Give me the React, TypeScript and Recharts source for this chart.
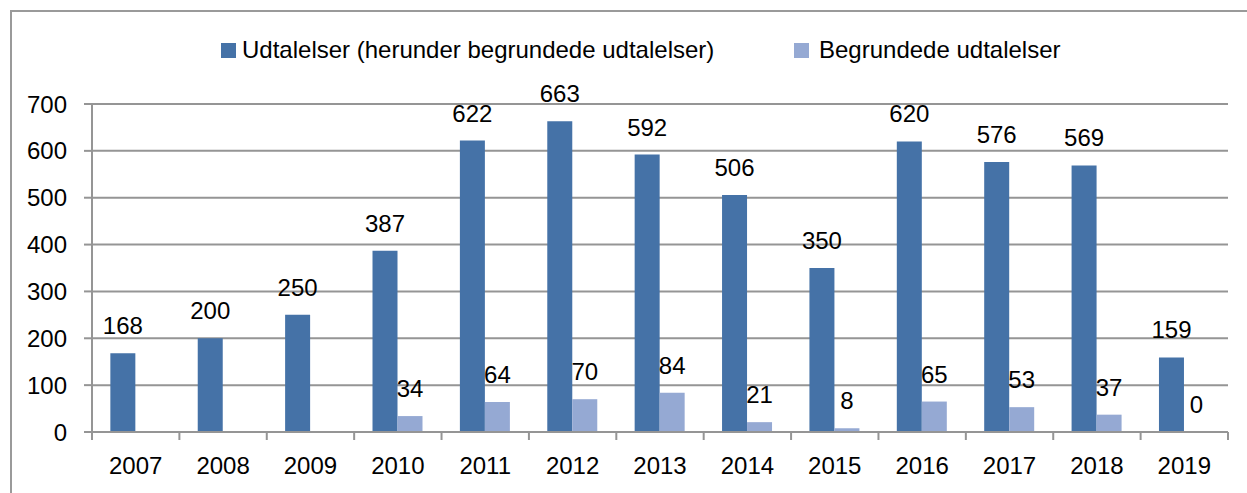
import { BarChart, Bar, XAxis, YAxis, CartesianGrid, LabelList } from 'recharts'

const years = ['2007', '2008', '2009', '2010', '2011', '2012', '2013', '2014', '2015', '2016', '2017', '2018', '2019']
const udtalelser = [168, 200, 250, 387, 622, 663, 592, 506, 350, 620, 576, 569, 159]
const begrundede = [null, null, null, 34, 64, 70, 84, 21, 8, 65, 53, 37, 0]
const yTicks = [0, 100, 200, 300, 400, 500, 600, 700]
const seriesNames = ['Udtalelser (herunder begrundede udtalelser)', 'Begrundede udtalelser']

const data = years.map((year, i) => ({
  year,
  udtalelser: udtalelser[i],
  begrundede: begrundede[i],
}))

const DARK = '#4572a7'
const LIGHT = '#95a9d3'
const GRID = '#959595'
const FONT = "'Liberation Sans', Arial, sans-serif"
const LABEL_GAP = 25

const fmt = (v: any) => (v === null || v === undefined ? '' : String(v))
// keep zero values as a (practically invisible) rect so their label is still drawn
const zeroSize = (v: any) => (v === 0 ? 0.01 : 0)

// category label plus the tick marks between categories (Excel style)
function YearTick(props: any) {
  const { x, y, payload, index, visibleTicksCount } = props
  const half = payload.offset ?? 0
  const axisY = y - LABEL_GAP
  const last = index === visibleTicksCount - 1
  return (
    <g>
      <line x1={x - half} x2={x - half} y1={axisY} y2={axisY + 8} stroke={GRID} strokeWidth={2} />
      {last && <line x1={x + half} x2={x + half} y1={axisY} y2={axisY + 8} stroke={GRID} strokeWidth={2} />}
      <text x={x} y={y} dy="0.71em" textAnchor="middle" fill="#000" fontSize={24} fontFamily={FONT}>
        {payload.value}
      </text>
    </g>
  )
}

export default function App() {
  return (
    <div
      style={{
        position: 'absolute',
        left: 0,
        top: 0,
        width: 1247,
        height: 493,
        overflow: 'hidden',
        background: '#fff',
        fontFamily: FONT,
      }}
    >
      <div
        style={{
          position: 'absolute',
          left: 10,
          top: 10,
          width: 1400,
          height: 700,
          borderTop: '2px solid #9a9a9a',
          borderLeft: '2px solid #9a9a9a',
        }}
      />
      <div style={{ position: 'absolute', top: 36, left: 221, display: 'flex', alignItems: 'center', fontSize: 24, color: '#000' }}>
        <span style={{ width: 15, height: 15, background: DARK, display: 'inline-block', marginRight: 6 }} />
        <span>{seriesNames[0]}</span>
      </div>
      <div style={{ position: 'absolute', top: 36, left: 794, display: 'flex', alignItems: 'center', fontSize: 24, color: '#000' }}>
        <span style={{ width: 15, height: 15, background: LIGHT, display: 'inline-block', marginRight: 10 }} />
        <span>{seriesNames[1]}</span>
      </div>
      <div style={{ position: 'absolute', left: 0, top: 0 }}>
        <BarChart
          width={1247}
          height={493}
          data={data}
          margin={{ top: 104, right: 19, bottom: 11, left: 0 }}
          barCategoryGap="21%"
          barGap={0}
        >
          <CartesianGrid vertical={false} stroke={GRID} strokeWidth={2} />
          <XAxis
            dataKey="year"
            axisLine={{ stroke: GRID, strokeWidth: 2 }}
            tickLine={false}
            tickSize={0}
            tickMargin={LABEL_GAP}
            height={50}
            interval={0}
            tick={<YearTick />}
          />
          <YAxis
            domain={[0, 700]}
            ticks={yTicks}
            width={92}
            tickSize={8}
            tickMargin={17}
            axisLine={{ stroke: GRID, strokeWidth: 2 }}
            tickLine={{ stroke: GRID, strokeWidth: 2 }}
            tick={{ fill: '#000', fontSize: 24, fontFamily: FONT }}
          />
          <Bar dataKey="udtalelser" name={seriesNames[0]} fill={DARK} isAnimationActive={false}>
            <LabelList dataKey="udtalelser" position="top" offset={19} formatter={fmt} fill="#000" fontSize={24} fontFamily={FONT} />
          </Bar>
          <Bar
            dataKey="begrundede"
            name={seriesNames[1]}
            fill={LIGHT}
            minPointSize={zeroSize}
            isAnimationActive={false}
          >
            <LabelList dataKey="begrundede" position="top" offset={19} formatter={fmt} fill="#000" fontSize={24} fontFamily={FONT} />
          </Bar>
        </BarChart>
      </div>
    </div>
  )
}
